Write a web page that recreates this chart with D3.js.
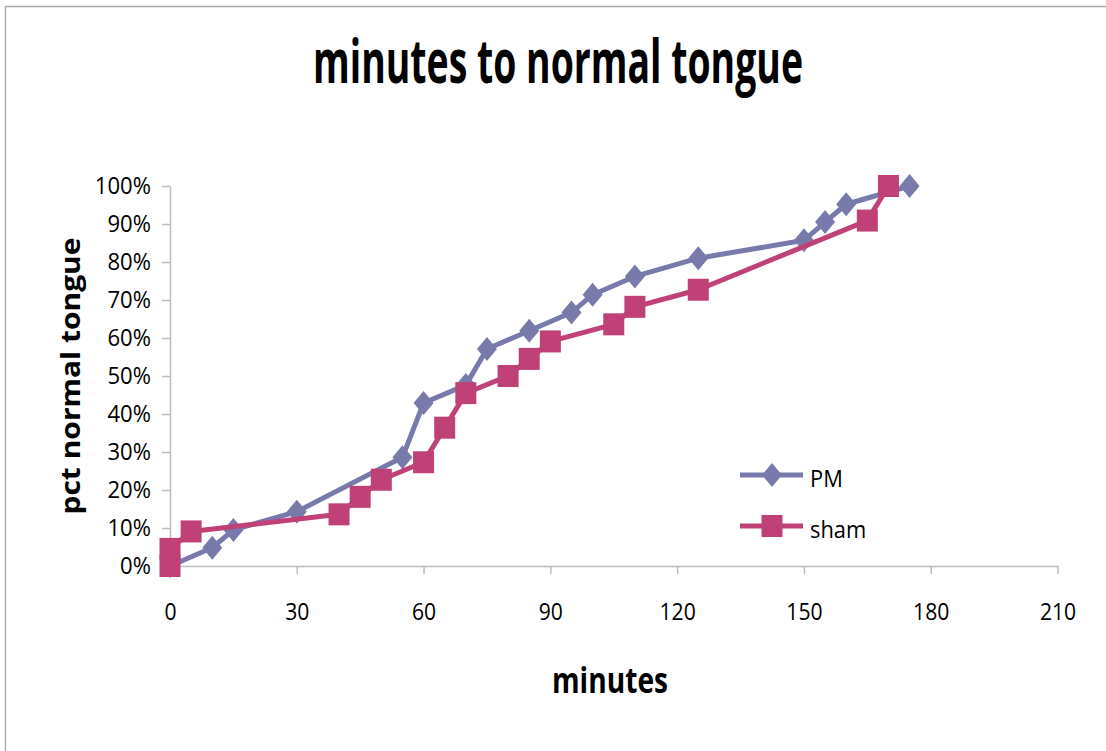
<!DOCTYPE html>
<html>
<head>
<meta charset="utf-8">
<script src="https://cdn.jsdelivr.net/npm/d3@7"></script>
<style>
  body { margin: 0; background: #fff; }
  text { font-family: "Open Sans", sans-serif; fill: #000; }
</style>
</head>
<body>
<div id="chart"></div>
<script>
// data
const xTicks = [0, 30, 60, 90, 120, 150, 180, 210];
const yTicks = [0, 0.1, 0.2, 0.3, 0.4, 0.5, 0.6, 0.7, 0.8, 0.9, 1.0];

const pmMinutes = [0, 10, 15, 30, 55, 60, 70, 75, 85, 95, 100, 110, 125, 150, 155, 160, 175];
const pmPct = [0, 0.048, 0.095, 0.143, 0.286, 0.429, 0.476, 0.571, 0.619, 0.667, 0.714, 0.762, 0.810, 0.857, 0.905, 0.952, 1.0];

const shamMinutes = [0, 0, 5, 40, 45, 50, 60, 65, 70, 80, 85, 90, 105, 110, 125, 165, 170];
const shamPct = [0, 0.045, 0.091, 0.136, 0.182, 0.227, 0.273, 0.364, 0.455, 0.5, 0.545, 0.591, 0.636, 0.682, 0.727, 0.909, 1.0];

const seriesNames = ["PM", "sham"];

const width = 1106, height = 751;
const pmColor = "#787aac";
const shamColor = "#c04178";
const axisColor = "#bdbdbd";

const svg = d3.select("#chart").append("svg")
    .attr("width", width).attr("height", height);

svg.append("rect").attr("width", width).attr("height", height).attr("fill", "#fff");

// outer chart border (left + top visible)
svg.append("path")
    .attr("d", `M5.5,${height} V6.5 H${width}`)
    .attr("fill", "none").attr("stroke", "#a9a9a9").attr("stroke-width", 1.3);

// squeeze text horizontally, the original font is narrow
function squeeze(sel, k) {
    sel.each(function () {
        const w = this.getComputedTextLength();
        d3.select(this).attr("textLength", w * k).attr("lengthAdjust", "spacingAndGlyphs");
    });
}

const x = d3.scaleLinear().domain([0, 210]).range([170, 1057.5]);
const y = d3.scaleLinear().domain([0, 1]).range([566, 186]);

// axes
const xAxis = svg.append("g").attr("transform", `translate(0,${y(0)})`)
    .call(d3.axisBottom(x).tickValues(xTicks).tickSize(8).tickSizeOuter(0).tickFormat(d3.format("d")));
xAxis.select(".domain").attr("stroke", axisColor).attr("stroke-width", 1.5);
xAxis.selectAll(".tick line").attr("stroke", axisColor).attr("stroke-width", 1.5);
xAxis.selectAll(".tick text")
    .attr("y", 54).attr("dy", null)
    .attr("font-family", "Open Sans").attr("font-size", 24).attr("fill", "#000");
squeeze(xAxis.selectAll(".tick text"), 0.88);

const yAxis = svg.append("g").attr("transform", `translate(${x(0)},0)`)
    .call(d3.axisLeft(y).tickValues(yTicks).tickSize(8).tickSizeOuter(0).tickPadding(11).tickFormat(d3.format(".0%")));
yAxis.select(".domain").attr("stroke", axisColor).attr("stroke-width", 1.5);
yAxis.selectAll(".tick line").attr("stroke", axisColor).attr("stroke-width", 1.5);
yAxis.selectAll(".tick text")
    .attr("font-family", "Open Sans").attr("font-size", 24).attr("fill", "#000");
squeeze(yAxis.selectAll(".tick text"), 0.92);

// title and axis titles
const title = svg.append("text")
    .attr("x", 558).attr("y", 83).attr("text-anchor", "middle")
    .attr("font-size", 60).attr("font-weight", "bold")
    .text("minutes to normal tongue");
title.attr("textLength", 490).attr("lengthAdjust", "spacingAndGlyphs");

svg.append("text")
    .attr("x", 610).attr("y", 693).attr("text-anchor", "middle")
    .attr("font-size", 35).attr("font-weight", "bold")
    .attr("textLength", 116).attr("lengthAdjust", "spacingAndGlyphs")
    .text("minutes");

svg.append("text")
    .attr("transform", "translate(80,376) rotate(-90)")
    .attr("text-anchor", "middle")
    .attr("font-size", 27).attr("font-weight", "bold")
    .attr("textLength", 277).attr("lengthAdjust", "spacingAndGlyphs")
    .text("pct normal tongue");

// series
const pmData = pmMinutes.map((m, i) => ({ m: m, p: pmPct[i] }));
const shamData = shamMinutes.map((m, i) => ({ m: m, p: shamPct[i] }));

const line = d3.line().x(d => x(d.m)).y(d => y(d.p));
const diamond = "M0,-12L10,0L0,12L-10,0Z";

function drawSeries(data, color, marker) {
    const g = svg.append("g");
    g.append("path").datum(data)
        .attr("d", line)
        .attr("fill", "none").attr("stroke", color)
        .attr("stroke-width", 5).attr("stroke-linejoin", "round");
    if (marker === "diamond") {
        g.selectAll("path.mk").data(data).enter().append("path")
            .attr("class", "mk")
            .attr("d", diamond)
            .attr("transform", d => `translate(${x(d.m)},${y(d.p)})`)
            .attr("fill", color);
    } else {
        g.selectAll("rect").data(data).enter().append("rect")
            .attr("x", d => x(d.m) - 10.5).attr("y", d => y(d.p) - 11)
            .attr("width", 21).attr("height", 22)
            .attr("fill", color);
    }
}

drawSeries(pmData, pmColor, "diamond");
drawSeries(shamData, shamColor, "square");

// legend
const legend = svg.append("g");
const legendRows = [
    { name: seriesNames[0], color: pmColor, marker: "diamond", y: 475 },
    { name: seriesNames[1], color: shamColor, marker: "square", y: 526 }
];
legendRows.forEach(r => {
    legend.append("line")
        .attr("x1", 740).attr("x2", 803).attr("y1", r.y).attr("y2", r.y)
        .attr("stroke", r.color).attr("stroke-width", 5);
    if (r.marker === "diamond") {
        legend.append("path").attr("d", diamond)
            .attr("transform", `translate(772,${r.y})`).attr("fill", r.color);
    } else {
        legend.append("rect").attr("x", 761.5).attr("y", r.y - 11)
            .attr("width", 21).attr("height", 22).attr("fill", r.color);
    }
    const t = legend.append("text")
        .attr("x", 810).attr("y", r.y + 12)
        .attr("font-size", 23)
        .text(r.name);
    squeeze(t, 0.95);
});
</script>
</body>
</html>
